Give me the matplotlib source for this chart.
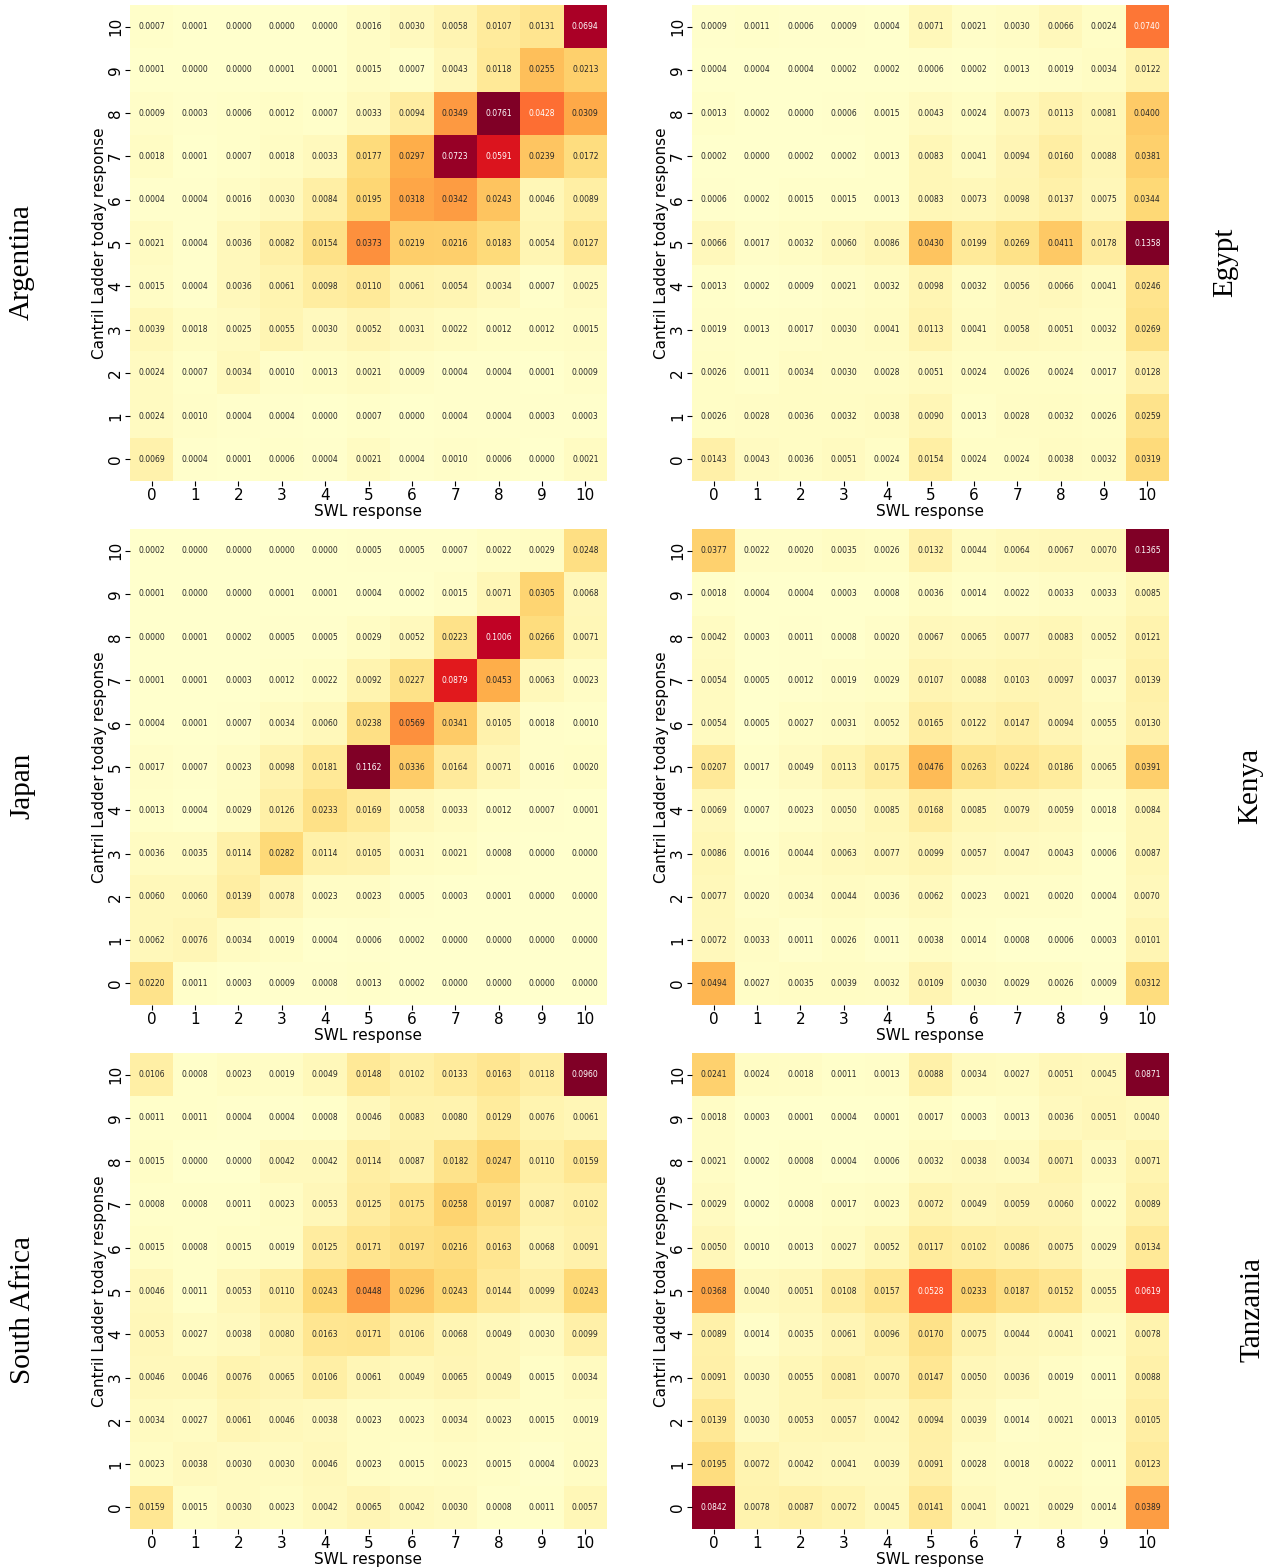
import matplotlib

matplotlib.use("Agg")
import matplotlib.pyplot as plt
import numpy as np
import seaborn as sns

SWL_LEVELS = list(range(0, 11))
LADDER_LEVELS = list(range(10, -1, -1))  # rows top -> bottom

# joint distribution, rows = Cantril ladder 10..0, cols = SWL 0..10
ARGENTINA = [
    [0.0007, 0.0001, 0.0000, 0.0000, 0.0000, 0.0016, 0.0030, 0.0058, 0.0107, 0.0131, 0.0694],
    [0.0001, 0.0000, 0.0000, 0.0001, 0.0001, 0.0015, 0.0007, 0.0043, 0.0118, 0.0255, 0.0213],
    [0.0009, 0.0003, 0.0006, 0.0012, 0.0007, 0.0033, 0.0094, 0.0349, 0.0761, 0.0428, 0.0309],
    [0.0018, 0.0001, 0.0007, 0.0018, 0.0033, 0.0177, 0.0297, 0.0723, 0.0591, 0.0239, 0.0172],
    [0.0004, 0.0004, 0.0016, 0.0030, 0.0084, 0.0195, 0.0318, 0.0342, 0.0243, 0.0046, 0.0089],
    [0.0021, 0.0004, 0.0036, 0.0082, 0.0154, 0.0373, 0.0219, 0.0216, 0.0183, 0.0054, 0.0127],
    [0.0015, 0.0004, 0.0036, 0.0061, 0.0098, 0.0110, 0.0061, 0.0054, 0.0034, 0.0007, 0.0025],
    [0.0039, 0.0018, 0.0025, 0.0055, 0.0030, 0.0052, 0.0031, 0.0022, 0.0012, 0.0012, 0.0015],
    [0.0024, 0.0007, 0.0034, 0.0010, 0.0013, 0.0021, 0.0009, 0.0004, 0.0004, 0.0001, 0.0009],
    [0.0024, 0.0010, 0.0004, 0.0004, 0.0000, 0.0007, 0.0000, 0.0004, 0.0004, 0.0003, 0.0003],
    [0.0069, 0.0004, 0.0001, 0.0006, 0.0004, 0.0021, 0.0004, 0.0010, 0.0006, 0.0000, 0.0021],
]

EGYPT = [
    [0.0009, 0.0011, 0.0006, 0.0009, 0.0004, 0.0071, 0.0021, 0.0030, 0.0066, 0.0024, 0.0740],
    [0.0004, 0.0004, 0.0004, 0.0002, 0.0002, 0.0006, 0.0002, 0.0013, 0.0019, 0.0034, 0.0122],
    [0.0013, 0.0002, 0.0000, 0.0006, 0.0015, 0.0043, 0.0024, 0.0073, 0.0113, 0.0081, 0.0400],
    [0.0002, 0.0000, 0.0002, 0.0002, 0.0013, 0.0083, 0.0041, 0.0094, 0.0160, 0.0088, 0.0381],
    [0.0006, 0.0002, 0.0015, 0.0015, 0.0013, 0.0083, 0.0073, 0.0098, 0.0137, 0.0075, 0.0344],
    [0.0066, 0.0017, 0.0032, 0.0060, 0.0086, 0.0430, 0.0199, 0.0269, 0.0411, 0.0178, 0.1358],
    [0.0013, 0.0002, 0.0009, 0.0021, 0.0032, 0.0098, 0.0032, 0.0056, 0.0066, 0.0041, 0.0246],
    [0.0019, 0.0013, 0.0017, 0.0030, 0.0041, 0.0113, 0.0041, 0.0058, 0.0051, 0.0032, 0.0269],
    [0.0026, 0.0011, 0.0034, 0.0030, 0.0028, 0.0051, 0.0024, 0.0026, 0.0024, 0.0017, 0.0128],
    [0.0026, 0.0028, 0.0036, 0.0032, 0.0038, 0.0090, 0.0013, 0.0028, 0.0032, 0.0026, 0.0259],
    [0.0143, 0.0043, 0.0036, 0.0051, 0.0024, 0.0154, 0.0024, 0.0024, 0.0038, 0.0032, 0.0319],
]

JAPAN = [
    [0.0002, 0.0000, 0.0000, 0.0000, 0.0000, 0.0005, 0.0005, 0.0007, 0.0022, 0.0029, 0.0248],
    [0.0001, 0.0000, 0.0000, 0.0001, 0.0001, 0.0004, 0.0002, 0.0015, 0.0071, 0.0305, 0.0068],
    [0.0000, 0.0001, 0.0002, 0.0005, 0.0005, 0.0029, 0.0052, 0.0223, 0.1006, 0.0266, 0.0071],
    [0.0001, 0.0001, 0.0003, 0.0012, 0.0022, 0.0092, 0.0227, 0.0879, 0.0453, 0.0063, 0.0023],
    [0.0004, 0.0001, 0.0007, 0.0034, 0.0060, 0.0238, 0.0569, 0.0341, 0.0105, 0.0018, 0.0010],
    [0.0017, 0.0007, 0.0023, 0.0098, 0.0181, 0.1162, 0.0336, 0.0164, 0.0071, 0.0016, 0.0020],
    [0.0013, 0.0004, 0.0029, 0.0126, 0.0233, 0.0169, 0.0058, 0.0033, 0.0012, 0.0007, 0.0001],
    [0.0036, 0.0035, 0.0114, 0.0282, 0.0114, 0.0105, 0.0031, 0.0021, 0.0008, 0.0000, 0.0000],
    [0.0060, 0.0060, 0.0139, 0.0078, 0.0023, 0.0023, 0.0005, 0.0003, 0.0001, 0.0000, 0.0000],
    [0.0062, 0.0076, 0.0034, 0.0019, 0.0004, 0.0006, 0.0002, 0.0000, 0.0000, 0.0000, 0.0000],
    [0.0220, 0.0011, 0.0003, 0.0009, 0.0008, 0.0013, 0.0002, 0.0000, 0.0000, 0.0000, 0.0000],
]

KENYA = [
    [0.0377, 0.0022, 0.0020, 0.0035, 0.0026, 0.0132, 0.0044, 0.0064, 0.0067, 0.0070, 0.1365],
    [0.0018, 0.0004, 0.0004, 0.0003, 0.0008, 0.0036, 0.0014, 0.0022, 0.0033, 0.0033, 0.0085],
    [0.0042, 0.0003, 0.0011, 0.0008, 0.0020, 0.0067, 0.0065, 0.0077, 0.0083, 0.0052, 0.0121],
    [0.0054, 0.0005, 0.0012, 0.0019, 0.0029, 0.0107, 0.0088, 0.0103, 0.0097, 0.0037, 0.0139],
    [0.0054, 0.0005, 0.0027, 0.0031, 0.0052, 0.0165, 0.0122, 0.0147, 0.0094, 0.0055, 0.0130],
    [0.0207, 0.0017, 0.0049, 0.0113, 0.0175, 0.0476, 0.0263, 0.0224, 0.0186, 0.0065, 0.0391],
    [0.0069, 0.0007, 0.0023, 0.0050, 0.0085, 0.0168, 0.0085, 0.0079, 0.0059, 0.0018, 0.0084],
    [0.0086, 0.0016, 0.0044, 0.0063, 0.0077, 0.0099, 0.0057, 0.0047, 0.0043, 0.0006, 0.0087],
    [0.0077, 0.0020, 0.0034, 0.0044, 0.0036, 0.0062, 0.0023, 0.0021, 0.0020, 0.0004, 0.0070],
    [0.0072, 0.0033, 0.0011, 0.0026, 0.0011, 0.0038, 0.0014, 0.0008, 0.0006, 0.0003, 0.0101],
    [0.0494, 0.0027, 0.0035, 0.0039, 0.0032, 0.0109, 0.0030, 0.0029, 0.0026, 0.0009, 0.0312],
]

SOUTH_AFRICA = [
    [0.0106, 0.0008, 0.0023, 0.0019, 0.0049, 0.0148, 0.0102, 0.0133, 0.0163, 0.0118, 0.0960],
    [0.0011, 0.0011, 0.0004, 0.0004, 0.0008, 0.0046, 0.0083, 0.0080, 0.0129, 0.0076, 0.0061],
    [0.0015, 0.0000, 0.0000, 0.0042, 0.0042, 0.0114, 0.0087, 0.0182, 0.0247, 0.0110, 0.0159],
    [0.0008, 0.0008, 0.0011, 0.0023, 0.0053, 0.0125, 0.0175, 0.0258, 0.0197, 0.0087, 0.0102],
    [0.0015, 0.0008, 0.0015, 0.0019, 0.0125, 0.0171, 0.0197, 0.0216, 0.0163, 0.0068, 0.0091],
    [0.0046, 0.0011, 0.0053, 0.0110, 0.0243, 0.0448, 0.0296, 0.0243, 0.0144, 0.0099, 0.0243],
    [0.0053, 0.0027, 0.0038, 0.0080, 0.0163, 0.0171, 0.0106, 0.0068, 0.0049, 0.0030, 0.0099],
    [0.0046, 0.0046, 0.0076, 0.0065, 0.0106, 0.0061, 0.0049, 0.0065, 0.0049, 0.0015, 0.0034],
    [0.0034, 0.0027, 0.0061, 0.0046, 0.0038, 0.0023, 0.0023, 0.0034, 0.0023, 0.0015, 0.0019],
    [0.0023, 0.0038, 0.0030, 0.0030, 0.0046, 0.0023, 0.0015, 0.0023, 0.0015, 0.0004, 0.0023],
    [0.0159, 0.0015, 0.0030, 0.0023, 0.0042, 0.0065, 0.0042, 0.0030, 0.0008, 0.0011, 0.0057],
]

TANZANIA = [
    [0.0241, 0.0024, 0.0018, 0.0011, 0.0013, 0.0088, 0.0034, 0.0027, 0.0051, 0.0045, 0.0871],
    [0.0018, 0.0003, 0.0001, 0.0004, 0.0001, 0.0017, 0.0003, 0.0013, 0.0036, 0.0051, 0.0040],
    [0.0021, 0.0002, 0.0008, 0.0004, 0.0006, 0.0032, 0.0038, 0.0034, 0.0071, 0.0033, 0.0071],
    [0.0029, 0.0002, 0.0008, 0.0017, 0.0023, 0.0072, 0.0049, 0.0059, 0.0060, 0.0022, 0.0089],
    [0.0050, 0.0010, 0.0013, 0.0027, 0.0052, 0.0117, 0.0102, 0.0086, 0.0075, 0.0029, 0.0134],
    [0.0368, 0.0040, 0.0051, 0.0108, 0.0157, 0.0528, 0.0233, 0.0187, 0.0152, 0.0055, 0.0619],
    [0.0089, 0.0014, 0.0035, 0.0061, 0.0096, 0.0170, 0.0075, 0.0044, 0.0041, 0.0021, 0.0078],
    [0.0091, 0.0030, 0.0055, 0.0081, 0.0070, 0.0147, 0.0050, 0.0036, 0.0019, 0.0011, 0.0088],
    [0.0139, 0.0030, 0.0053, 0.0057, 0.0042, 0.0094, 0.0039, 0.0014, 0.0021, 0.0013, 0.0105],
    [0.0195, 0.0072, 0.0042, 0.0041, 0.0039, 0.0091, 0.0028, 0.0018, 0.0022, 0.0011, 0.0123],
    [0.0842, 0.0078, 0.0087, 0.0072, 0.0045, 0.0141, 0.0041, 0.0021, 0.0029, 0.0014, 0.0389],
]

PANELS = [
    ("Argentina", ARGENTINA),
    ("Egypt", EGYPT),
    ("Japan", JAPAN),
    ("Kenya", KENYA),
    ("South Africa", SOUTH_AFRICA),
    ("Tanzania", TANZANIA),
]

# x pixel of the centre of each country label
LABEL_X = [22, 1225, 22, 1250, 23, 1252]

W, H = 1282, 1568
fig = plt.figure(figsize=(W / 100, H / 100), dpi=100)

col_left = [130, 692]
row_top = [5, 529, 1053]
size_w, size_h = 477, 476

for idx, (country, matrix) in enumerate(PANELS):
    r, c = divmod(idx, 2)
    x0 = col_left[c]
    y0 = row_top[r]
    ax = fig.add_axes([x0 / W, 1 - (y0 + size_h) / H, size_w / W, size_h / H])
    sns.heatmap(
        np.array(matrix),
        ax=ax,
        cmap="YlOrRd",
        annot=True,
        fmt=".4f",
        annot_kws={"size": 5.5},
        cbar=False,
        xticklabels=SWL_LEVELS,
        yticklabels=LADDER_LEVELS,
    )
    ax.set_xlabel("SWL response", fontsize=11, labelpad=1)
    ax.tick_params(axis="x", labelsize=11, rotation=0, pad=1.5)
    ax.tick_params(axis="y", labelsize=11, pad=1.5)
    for lbl in ax.get_yticklabels():
        lbl.set_rotation(90)
        lbl.set_va("center")
    ax.set_ylabel("Cantril Ladder today response", fontsize=11, labelpad=1)

    cy = 1 - (y0 + size_h / 2 + 19) / H
    fig.text(LABEL_X[idx] / W, cy, country, rotation=90, ha="center", va="center",
             fontsize=21, family=["Liberation Serif", "DejaVu Serif"])

fig.savefig("out.png", dpi=100)
plt.close(fig)
